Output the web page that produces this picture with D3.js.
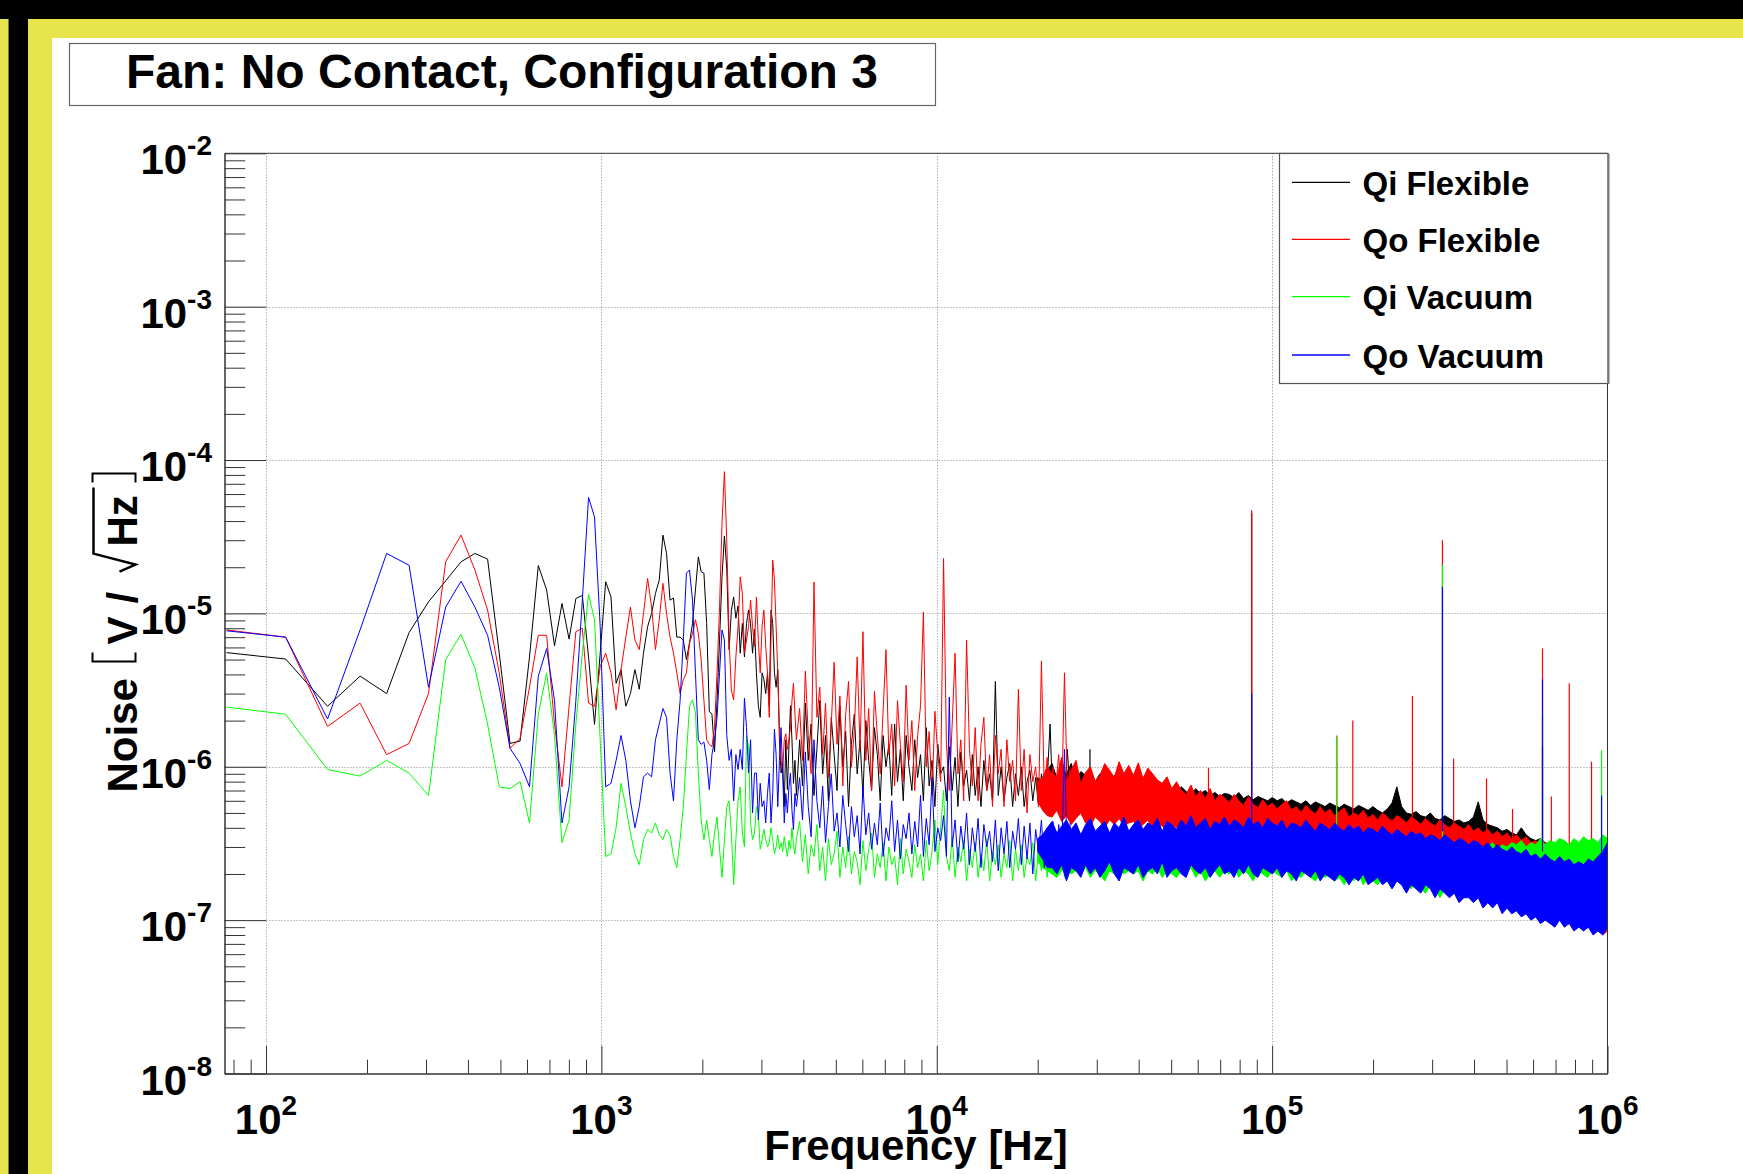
<!DOCTYPE html>
<html lang="en">
<head>
<meta charset="UTF-8">
<title>Fan: No Contact, Configuration 3</title>
<script src="https://d3js.org/d3.v7.min.js"></script>
<style>
  body { margin: 0; background: #fff; }
  text { font-family: "Liberation Sans", Arial, sans-serif; font-weight: bold; fill: #000; }
</style>
</head>
<body>
<script>
// all noise values are in uV/sqrt(Hz)
const unit = 1e-6;
const binWidth = 38.15;   // Hz per FFT bin
const lowStartBin = 2;    // first bin shown, low part runs bin 2..100

const seriesNames = ["Qi Flexible", "Qo Flexible", "Qi Vacuum", "Qo Vacuum"];
const seriesColors = ["#000000", "#ff0000", "#00ff00", "#0000ff"];

// ---- low part, one value per bin (k = 2..100)
const qiFlexLow = [5.55, 5.04, 2.48, 3.9, 3.0, 7.5, 11.9, 16.3, 21.7,
  24.6, 22.6, 5.5, 1.42, 1.47, 5.2, 20.5, 14.2, 6.15, 11.6,
  6.8, 12.5, 13.1, 5.2, 1.89, 5.5, 16.1, 12.8, 3.5, 4.3,
  2.48, 3.0, 4.3, 3.2, 5.5, 8.2, 10.0, 13.5, 16.5, 32.4,
  24.6, 12.2, 12.6, 7.0, 7.0, 6.7, 5.0, 6.4, 8.6, 14.2,
  23.4, 18.7, 18.3, 8.6, 2.3, 2.2, 1.25, 2.7, 6.7, 17.3,
  32, 19.5, 5.8, 10.5, 12.8, 9.3, 11.2, 5.5, 8.6, 5.2,
  8.6, 10.5, 8.6, 5.5, 7.9, 4.1, 2.5, 2.1, 4.1, 3.7,
  3.0, 4.1, 2.5, 10.5, 8.6, 4.1, 3.3, 4.3, 1.5, 0.91,
  1.05, 0.55, 1.5, 0.71, 1.35, 2.5, 1.5, 0.78, 1.1, 0.65];
const qoFlexLow = [7.8, 7.0, 1.83, 2.6, 1.2, 1.42, 3.0, 21.7, 32.4,
  19.2, 10.5, 4.08, 1.32, 1.53, 3.3, 7.2, 7.2, 1.9, 0.74,
  2.48, 7.6, 8.0, 2.6, 2.48, 4.5, 5.5, 4.1, 2.35, 4.3,
  7.0, 11.0, 6.7, 5.8, 10, 16.9, 11.0, 5.8, 9.1, 15.7,
  10, 7.0, 5.5, 4.1, 3.0, 3.7, 4.1, 6.4, 7.4, 9.1,
  7.4, 5.0, 2.7, 1.5, 1.4, 1.35, 1.8, 4.1, 11, 38.6,
  84, 30, 6.7, 3.16, 2.73, 5.2, 8.2, 17.3, 13.5, 5.5,
  6.7, 8.2, 12.2, 8.2, 6.1, 12.8, 6.7, 4.1, 8.2, 10.5,
  6.1, 4.1, 2.1, 6.7, 22.3, 16.5, 8.2, 4.1, 1.76, 1.1,
  0.91, 1.5, 1.64, 1.3, 1.5, 1.8, 2.7, 3.5, 2.2, 1.5];
const qiVacLow = [2.45, 2.2, 0.96, 0.87, 1.1, 0.91, 0.65, 5.0, 7.3,
  4.4, 1.9, 0.74, 0.72, 0.8, 0.43, 2.2, 4.1, 1.6, 0.32,
  0.45, 1.9, 5.5, 13.3, 9.1, 1.5, 0.26, 0.27, 0.4, 0.78,
  0.55, 0.37, 0.27, 0.23, 0.335, 0.39, 0.37, 0.43, 0.36, 0.335,
  0.39, 0.36, 0.26, 0.22, 0.335, 0.55, 1.2, 2.48, 2.73, 2.25,
  0.91, 0.45, 0.335, 0.45, 0.335, 0.26, 0.37, 0.47, 0.29, 0.19,
  0.335, 0.55, 0.6, 0.37, 0.17, 0.335, 0.6, 0.74, 0.37, 0.3,
  1.6, 1.35, 0.43, 0.335, 0.37, 0.55, 0.5, 0.29, 0.335, 0.39,
  0.335, 0.3, 0.32, 0.4, 0.335, 0.27, 0.3, 0.36, 0.29, 0.32,
  0.28, 0.35, 0.3, 0.26, 0.33, 0.29, 0.4, 0.31, 0.27, 0.34];
const qoVacLow = [7.7, 7.0, 2.05, 7.8, 24.6, 20.6, 3.3, 11, 16.2,
  11, 7.2, 3.3, 1.32, 1.05, 0.74, 3.9, 5.9, 2.7, 0.43,
  0.74, 2.7, 12.2, 57, 42.7, 8.2, 0.74, 0.78, 1.1, 1.6,
  1.1, 0.6, 0.4, 0.55, 0.86, 0.91, 0.86, 1.5, 1.9, 2.4,
  2.1, 0.91, 0.6, 1.5, 2.7, 6.7, 18.3, 19.2, 12.2, 4.1,
  1.5, 1.4, 1.45, 1.1, 0.71, 1.2, 1.5, 2.1, 4.1, 7.8,
  6.7, 1.6, 1.1, 1.3, 0.6, 1.2, 0.96, 1.3, 0.96, 2.8,
  1.8, 0.91, 1.5, 0.5, 0.91, 0.91, 0.45, 0.78, 0.55, 0.6,
  0.43, 0.67, 0.91, 0.43, 0.67, 1.76, 1.2, 0.55, 1.1, 1.8,
  0.91, 0.43, 0.67, 0.5, 0.74, 0.91, 0.52, 0.39, 0.67, 0.55];

// ---- middle part, read every ~3 px from 3.9 kHz to 25 kHz
const midRange = [3900, 25000, 95];
const qiFlexMid = [1.5, 0.75, 2.6, 1.1, 1.9, 0.65, 1.3, 2.7, 0.9, 1.6,
  0.6, 2.1, 1.2, 0.7, 2.5, 1.0, 1.7, 0.55, 1.4, 2.2,
  0.9, 1.5, 0.65, 2.0, 1.1, 0.7, 1.8, 1.2, 0.6, 1.6,
  1.0, 1.4, 0.65, 1.9, 0.8, 1.3, 0.6, 1.6, 1.0, 0.7,
  1.5, 0.85, 1.2, 0.6, 1.8, 0.75, 1.1, 0.55, 1.4, 0.9,
  1.0, 0.6, 1.35, 0.7, 1.15, 0.55, 1.25, 0.75, 0.95, 0.6,
  1.2, 0.65, 1.0, 0.55, 1.1, 0.7, 0.9, 0.6, 3.6, 0.65,
  1.0, 0.6, 0.85, 1.05, 0.55, 0.9, 0.65, 1.0, 0.55, 0.8,
  0.95, 0.6, 0.85, 0.55, 0.9, 0.65, 0.8, 1.9, 0.55, 0.85,
  0.6, 0.9, 0.55, 1.3, 0.65];
const qoFlexMid = [2.4, 1.1, 4.2, 1.6, 0.9, 16, 2.1, 3.3, 1.2, 2.6,
  0.85, 1.9, 4.8, 1.4, 2.9, 0.75, 2.2, 3.6, 1.0, 1.7,
  5.2, 1.3, 7.6, 1.1, 2.4, 0.7, 3.1, 1.6, 0.9, 2.3,
  5.8, 1.2, 1.9, 0.75, 2.7, 1.4, 0.8, 3.4, 1.1, 2.0,
  0.7, 1.6, 2.5, 10.2, 1.0, 1.7, 0.65, 2.3, 1.2, 0.8,
  22.8, 1.4, 0.7, 1.9, 5.5, 0.9, 1.5, 0.6, 6.7, 1.3,
  0.75, 1.8, 0.6, 1.4, 2.1, 0.7, 1.2, 0.55, 1.6, 0.9,
  1.3, 0.55, 1.5, 0.8, 1.1, 0.6, 3.2, 0.7, 1.3, 0.5,
  1.2, 0.8, 1.0, 0.55, 4.9, 0.7, 1.15, 0.5, 1.0, 0.75,
  1.2, 0.55, 4.1, 0.7, 1.0];
const qiVacMid = [0.44, 0.24, 0.36, 0.2, 0.31, 0.26, 0.42, 0.21, 0.3, 0.18,
  0.34, 0.23, 0.27, 0.38, 0.19, 0.3, 0.22, 0.35, 0.2, 0.28,
  0.24, 0.17, 0.33, 0.21, 0.29, 0.37, 0.19, 0.27, 0.22, 0.32,
  0.18, 0.3, 0.23, 0.26, 0.17, 0.34, 0.2, 0.29, 0.24, 0.19,
  0.31, 0.22, 0.27, 0.18, 0.33, 0.21, 0.28, 0.45, 0.23, 0.4,
  0.7, 0.26, 0.21, 0.35, 0.19, 0.3, 0.24, 0.33, 0.18, 0.29,
  0.22, 0.32, 0.19, 0.27, 0.21, 0.34, 0.18, 0.28, 0.23, 0.31,
  0.19, 0.27, 0.22, 0.33, 0.18, 0.29, 0.21, 0.31, 0.19, 0.26,
  0.23, 0.32, 0.18, 0.28, 0.21, 0.3, 0.19, 0.33, 0.2, 0.27,
  0.22, 0.31, 0.19, 0.29, 0.21];
const qoVacMid = [0.85, 0.45, 1.25, 0.55, 0.35, 1.5, 0.6, 0.4, 0.75, 0.32,
  0.55, 0.9, 0.38, 0.5, 0.3, 0.65, 0.42, 0.28, 0.55, 0.35,
  0.48, 0.27, 0.75, 0.36, 0.5, 0.29, 0.43, 0.31, 0.58, 0.26,
  0.4, 0.33, 0.6, 0.28, 0.45, 0.25, 0.42, 0.34, 0.5, 0.27,
  0.44, 0.3, 0.65, 0.26, 0.46, 0.31, 0.85, 0.28, 0.4, 0.33,
  0.48, 0.26, 2.85, 0.3, 0.45, 0.24, 0.41, 0.29, 0.5, 0.23,
  0.4, 0.28, 0.46, 0.22, 0.42, 0.3, 0.38, 0.24, 0.45, 0.21,
  0.4, 0.27, 0.44, 0.22, 0.38, 0.29, 0.46, 0.23, 0.41, 0.25,
  0.43, 0.2, 0.39, 0.28, 0.45, 0.22, 0.4, 0.26, 0.44, 0.21,
  0.42, 0.25, 1.3, 0.23, 0.43];

// ---- dense band, upper / lower edge read every ~5 px from 20 kHz to 1 MHz
const bandRange = [20000, 1e6, 120];
const qiFlexHi = [0.85, 0.8, 0.95, 1.05, 0.84, 0.95, 0.9, 1.05, 0.82, 0.93,
  0.88, 0.96, 0.8, 0.9, 0.84, 0.78, 0.88, 0.8, 0.76, 0.85,
  0.78, 0.74, 0.82, 0.76, 0.72, 0.78, 0.7, 0.75, 0.71, 0.68,
  0.74, 0.69, 0.66, 0.72, 0.67, 0.7, 0.65, 0.68, 0.64, 0.67,
  0.66, 0.63, 0.68, 0.62, 0.65, 0.61, 0.64, 0.62, 0.6, 0.63,
  0.6, 0.62, 0.58, 0.61, 0.59, 0.57, 0.6, 0.56, 0.59, 0.57,
  0.55, 0.58, 0.56, 0.54, 0.57, 0.55, 0.53, 0.56, 0.54, 0.52,
  0.55, 0.52, 0.5, 0.53, 0.58, 0.74, 0.55, 0.5, 0.49, 0.51,
  0.48, 0.47, 0.5, 0.46, 0.45, 0.48, 0.46, 0.44, 0.45, 0.43,
  0.44, 0.47, 0.59, 0.45, 0.42, 0.41, 0.4, 0.38, 0.39, 0.37,
  0.36, 0.4, 0.36, 0.34, 0.33, 0.34, 0.32, 0.31, 0.3, 0.3,
  0.29, 0.28, 0.29, 0.27, 0.27, 0.26, 0.26, 0.25, 0.24, 0.25];
const qiFlexLo = [0.62, 0.56, 0.5, 0.51, 0.55, 0.48, 0.52, 0.47, 0.5, 0.53,
  0.47, 0.46, 0.5, 0.48, 0.45, 0.49, 0.46, 0.49, 0.45, 0.47,
  0.47, 0.44, 0.46, 0.48, 0.43, 0.46, 0.44, 0.42, 0.45, 0.43,
  0.42, 0.44, 0.41, 0.42, 0.4, 0.43, 0.4, 0.39, 0.41, 0.39,
  0.4, 0.38, 0.41, 0.37, 0.39, 0.38, 0.36, 0.39, 0.37, 0.36,
  0.38, 0.35, 0.37, 0.36, 0.34, 0.37, 0.35, 0.33, 0.36, 0.34,
  0.33, 0.35, 0.32, 0.34, 0.33, 0.31, 0.33, 0.32, 0.3, 0.32,
  0.31, 0.29, 0.31, 0.3, 0.3, 0.32, 0.29, 0.27, 0.29, 0.27,
  0.26, 0.28, 0.25, 0.26, 0.24, 0.25, 0.23, 0.24, 0.23, 0.22,
  0.23, 0.24, 0.25, 0.2, 0.21, 0.19, 0.2, 0.18, 0.19, 0.18,
  0.17, 0.18, 0.16, 0.17, 0.15, 0.16, 0.15, 0.14, 0.15, 0.14,
  0.13, 0.14, 0.12, 0.13, 0.12, 0.12, 0.11, 0.12, 0.1, 0.11];
const qoFlexHi = [0.8, 0.85, 1.0, 0.9, 0.86, 1.15, 0.8, 0.95, 1.1, 0.78,
  0.92, 1.0, 0.8, 0.88, 1.05, 0.95, 0.85, 1.08, 0.9, 1.02,
  0.88, 1.06, 0.84, 0.98, 0.9, 0.82, 0.78, 0.86, 0.72, 0.8,
  0.7, 0.66, 0.76, 0.64, 0.7, 0.62, 0.72, 0.6, 0.66, 0.63,
  0.58, 0.66, 0.6, 0.56, 0.64, 0.57, 0.54, 0.61, 0.55, 0.58,
  0.53, 0.57, 0.6, 0.52, 0.55, 0.5, 0.56, 0.52, 0.49, 0.55,
  0.5, 0.53, 0.48, 0.51, 0.54, 0.47, 0.5, 0.48, 0.52, 0.46,
  0.49, 0.45, 0.5, 0.47, 0.44, 0.48, 0.46, 0.43, 0.47, 0.45,
  0.42, 0.46, 0.43, 0.41, 0.45, 0.42, 0.4, 0.43, 0.41, 0.39,
  0.42, 0.38, 0.4, 0.37, 0.39, 0.36, 0.38, 0.35, 0.37, 0.34,
  0.36, 0.33, 0.35, 0.32, 0.33, 0.31, 0.32, 0.3, 0.31, 0.29,
  0.3, 0.28, 0.29, 0.27, 0.27, 0.25, 0.26, 0.24, 0.24, 0.23];
const qoFlexLo = [0.6, 0.52, 0.48, 0.47, 0.52, 0.44, 0.48, 0.42, 0.46, 0.5,
  0.43, 0.41, 0.47, 0.44, 0.4, 0.45, 0.42, 0.46, 0.41, 0.43,
  0.44, 0.4, 0.42, 0.45, 0.39, 0.43, 0.41, 0.38, 0.42, 0.4,
  0.38, 0.41, 0.37, 0.39, 0.36, 0.4, 0.37, 0.35, 0.38, 0.36,
  0.37, 0.35, 0.38, 0.34, 0.36, 0.35, 0.33, 0.36, 0.34, 0.33,
  0.35, 0.32, 0.34, 0.33, 0.31, 0.34, 0.32, 0.3, 0.33, 0.31,
  0.3, 0.32, 0.29, 0.31, 0.3, 0.28, 0.3, 0.29, 0.27, 0.29,
  0.28, 0.26, 0.28, 0.27, 0.25, 0.27, 0.25, 0.24, 0.26, 0.24,
  0.23, 0.25, 0.22, 0.23, 0.21, 0.22, 0.2, 0.21, 0.2, 0.19,
  0.2, 0.18, 0.19, 0.17, 0.18, 0.16, 0.17, 0.15, 0.16, 0.15,
  0.14, 0.15, 0.13, 0.14, 0.12, 0.13, 0.12, 0.11, 0.12, 0.11,
  0.1, 0.11, 0.095, 0.1, 0.09, 0.095, 0.085, 0.09, 0.08, 0.085];
const qiVacHi = [0.28, 0.3, 0.33, 0.33, 0.3, 0.35, 0.32, 0.37, 0.3, 0.34,
  0.31, 0.36, 0.32, 0.29, 0.35, 0.31, 0.33, 0.3, 0.36, 0.31,
  0.33, 0.3, 0.35, 0.31, 0.29, 0.34, 0.31, 0.33, 0.3, 0.35,
  0.31, 0.33, 0.29, 0.34, 0.3, 0.32, 0.29, 0.33, 0.3, 0.32,
  0.3, 0.33, 0.29, 0.31, 0.34, 0.29, 0.32, 0.3, 0.28, 0.32,
  0.3, 0.28, 0.32, 0.29, 0.31, 0.28, 0.3, 0.32, 0.28, 0.3,
  0.29, 0.31, 0.28, 0.3, 0.27, 0.3, 0.29, 0.27, 0.3, 0.28,
  0.29, 0.27, 0.3, 0.28, 0.27, 0.29, 0.27, 0.3, 0.28, 0.27,
  0.29, 0.27, 0.28, 0.3, 0.27, 0.29, 0.28, 0.3, 0.28, 0.29,
  0.3, 0.28, 0.31, 0.29, 0.3, 0.32, 0.29, 0.31, 0.3, 0.32,
  0.31, 0.33, 0.3, 0.32, 0.31, 0.34, 0.31, 0.33, 0.32, 0.34,
  0.33, 0.31, 0.34, 0.32, 0.35, 0.33, 0.34, 0.32, 0.36, 0.34];
const qiVacLo = [0.24, 0.22, 0.21, 0.2, 0.19, 0.21, 0.22, 0.2, 0.21, 0.2,
  0.22, 0.19, 0.21, 0.2, 0.18, 0.21, 0.2, 0.22, 0.2, 0.21,
  0.2, 0.21, 0.18, 0.21, 0.2, 0.22, 0.19, 0.21, 0.2, 0.19,
  0.21, 0.2, 0.22, 0.19, 0.21, 0.18, 0.2, 0.21, 0.19, 0.21,
  0.2, 0.22, 0.19, 0.21, 0.2, 0.18, 0.21, 0.2, 0.19, 0.21,
  0.2, 0.19, 0.21, 0.18, 0.2, 0.19, 0.21, 0.19, 0.18, 0.2,
  0.19, 0.2, 0.18, 0.19, 0.17, 0.19, 0.18, 0.2, 0.17, 0.19,
  0.18, 0.17, 0.19, 0.18, 0.16, 0.18, 0.17, 0.19, 0.16, 0.18,
  0.16, 0.15, 0.17, 0.16, 0.14, 0.16, 0.15, 0.17, 0.14, 0.16,
  0.15, 0.14, 0.16, 0.15, 0.14, 0.15, 0.13, 0.15, 0.14, 0.15,
  0.14, 0.13, 0.15, 0.14, 0.13, 0.14, 0.13, 0.15, 0.13, 0.14,
  0.14, 0.13, 0.15, 0.13, 0.14, 0.13, 0.15, 0.13, 0.14, 0.13];
const qoVacHi = [0.34, 0.36, 0.4, 0.44, 0.37, 0.41, 0.45, 0.39, 0.43, 0.36,
  0.42, 0.46, 0.38, 0.41, 0.44, 0.37, 0.43, 0.4, 0.47, 0.38,
  0.42, 0.45, 0.39, 0.43, 0.41, 0.46, 0.38, 0.44, 0.42, 0.39,
  0.45, 0.41, 0.48, 0.4, 0.43, 0.46, 0.39, 0.44, 0.42, 0.47,
  0.41, 0.45, 0.43, 0.4, 0.47, 0.42, 0.44, 0.4, 0.46, 0.43,
  0.41, 0.45, 0.39, 0.43, 0.42, 0.4, 0.45, 0.41, 0.38, 0.43,
  0.41, 0.39, 0.43, 0.4, 0.38, 0.42, 0.39, 0.41, 0.37, 0.4,
  0.39, 0.37, 0.41, 0.38, 0.36, 0.39, 0.37, 0.35, 0.38, 0.36,
  0.37, 0.34, 0.36, 0.35, 0.33, 0.36, 0.34, 0.32, 0.34, 0.33,
  0.31, 0.33, 0.32, 0.3, 0.32, 0.29, 0.31, 0.29, 0.28, 0.3,
  0.28, 0.27, 0.29, 0.26, 0.27, 0.25, 0.27, 0.25, 0.24, 0.26,
  0.24, 0.25, 0.23, 0.24, 0.23, 0.25, 0.24, 0.26, 0.28, 0.32];
const qoVacLo = [0.28, 0.25, 0.22, 0.22, 0.2, 0.23, 0.18, 0.22, 0.21, 0.19,
  0.23, 0.2, 0.22, 0.19, 0.21, 0.24, 0.2, 0.18, 0.22, 0.21,
  0.2, 0.23, 0.19, 0.21, 0.22, 0.2, 0.24, 0.19, 0.21, 0.22,
  0.2, 0.19, 0.23, 0.21, 0.2, 0.22, 0.19, 0.21, 0.23, 0.2,
  0.21, 0.19, 0.22, 0.2, 0.23, 0.2, 0.19, 0.22, 0.21, 0.2,
  0.22, 0.19, 0.21, 0.2, 0.18, 0.21, 0.2, 0.19, 0.21, 0.18,
  0.2, 0.19, 0.18, 0.2, 0.19, 0.17, 0.19, 0.18, 0.2, 0.17,
  0.18, 0.19, 0.17, 0.18, 0.16, 0.18, 0.17, 0.15, 0.17, 0.16,
  0.15, 0.17, 0.16, 0.14, 0.16, 0.15, 0.14, 0.15, 0.13, 0.14,
  0.14, 0.13, 0.14, 0.12, 0.13, 0.12, 0.13, 0.11, 0.12, 0.11,
  0.115, 0.105, 0.11, 0.1, 0.105, 0.095, 0.1, 0.095, 0.09, 0.1,
  0.09, 0.095, 0.085, 0.09, 0.085, 0.09, 0.08, 0.085, 0.08, 0.09];

// ---- narrow lines: [frequency Hz, band level, peak]
const qiFlexSpikes = [[28630, 0.75, 1.3], [86900, 0.6, 45],
  [322000, 0.45, 1.0], [640000, 0.32, 1.35]];
const qoFlexSpikes = [[64600, 0.55, 0.98], [86900, 0.55, 47], [156000, 0.45, 1.6],
  [174000, 0.45, 2.0], [262000, 0.42, 2.9], [322000, 0.42, 30], [347600, 0.4, 1.13],
  [435800, 0.36, 0.84], [521000, 0.34, 0.53], [640000, 0.3, 5.9], [680000, 0.28, 0.64],
  [769000, 0.27, 3.5], [896000, 0.25, 1.08]];
const qiVacSpikes = [[155600, 0.3, 1.57], [322000, 0.27, 20.7], [640000, 0.27, 2.2],
  [960000, 0.3, 1.28]];
const qoVacSpikes = [[86900, 0.42, 3.0], [322000, 0.38, 14.9],
  [640000, 0.28, 3.7], [960000, 0.28, 0.65]];

const xExponents = [2, 3, 4, 5, 6];
const yExponents = [-8, -7, -6, -5, -4, -3, -2];

// ------------------------------------------------------------------
const W = 1743, H = 1174;
const yellow = "#e8e44c";
const plot = { left: 224.5, right: 1607.5, top: 153.3, bottom: 1073.5 };

const svg = d3.select("body").append("svg")
  .attr("width", W)
  .attr("height", H);

// canvas border (black + yellow strips)
svg.append("rect").attr("width", W).attr("height", H).attr("fill", "#fff");
svg.append("rect").attr("x", 0).attr("y", 0).attr("width", W).attr("height", 19).attr("fill", "#000");
svg.append("rect").attr("x", 28).attr("y", 19).attr("width", W - 28).attr("height", 19).attr("fill", yellow);
svg.append("rect").attr("x", 0).attr("y", 19).attr("width", 8.5).attr("height", H - 19).attr("fill", yellow);
svg.append("rect").attr("x", 8.5).attr("y", 0).attr("width", 19.5).attr("height", H).attr("fill", "#000");
svg.append("rect").attr("x", 28).attr("y", 19).attr("width", 24).attr("height", H - 19).attr("fill", yellow);

// scales
const x = d3.scaleLog().domain([75.2, 1e6]).range([plot.left, plot.right]);
const y = d3.scaleLog().domain([1e-8, 1e-2]).range([plot.bottom, plot.top]);

const xMajor = xExponents.map(e => Math.pow(10, e));
const yMajor = yExponents.map(e => Math.pow(10, e));
const xMinor = [80, 90].concat(...[1e2, 1e3, 1e4, 1e5].map(d => d3.range(2, 10).map(m => m * d)));
const yMinor = [].concat(...yMajor.slice(0, -1).map(d => d3.range(2, 10).map(m => m * d)));

// grid
const grid = svg.append("g")
  .attr("stroke", "#8a8a8a")
  .attr("stroke-dasharray", "1,2")
  .attr("stroke-width", 1);
grid.selectAll(".gx").data(xMajor.filter(v => v < 1e6)).join("line")
  .attr("x1", d => Math.round(x(d)) + 0.5).attr("x2", d => Math.round(x(d)) + 0.5)
  .attr("y1", plot.top).attr("y2", plot.bottom);
grid.selectAll(".gy").data(yMajor.slice(1, -1)).join("line")
  .attr("x1", plot.left).attr("x2", plot.right)
  .attr("y1", d => Math.round(y(d)) + 0.5).attr("y2", d => Math.round(y(d)) + 0.5);

// data
svg.append("clipPath").attr("id", "plotClip")
  .append("rect")
  .attr("x", plot.left).attr("y", plot.top)
  .attr("width", plot.right - plot.left).attr("height", plot.bottom - plot.top);

function logGrid([a, b, n]) {
  return d3.range(n).map(i => a * Math.pow(b / a, i / (n - 1)));
}
const midFreq = logGrid(midRange);
const bandFreq = logGrid(bandRange);

const series = [
  { low: qiFlexLow, mid: qiFlexMid, hi: qiFlexHi, lo: qiFlexLo, spikes: qiFlexSpikes },
  { low: qoFlexLow, mid: qoFlexMid, hi: qoFlexHi, lo: qoFlexLo, spikes: qoFlexSpikes },
  { low: qiVacLow, mid: qiVacMid, hi: qiVacHi, lo: qiVacLo, spikes: qiVacSpikes },
  { low: qoVacLow, mid: qoVacMid, hi: qoVacHi, lo: qoVacLo, spikes: qoVacSpikes }
];

const line = d3.line().x(d => x(d[0])).y(d => y(d[1] * unit));
const area = d3.area()
  .x(d => x(d.f))
  .y0(d => y(d.lo * unit))
  .y1(d => y(d.hi * unit));

const dataG = svg.append("g").attr("clip-path", "url(#plotClip)");

series.forEach((s, si) => {
  const color = seriesColors[si];
  const g = dataG.append("g");
  const pts = s.low.map((v, i) => [(i + lowStartBin) * binWidth, v])
    .concat(s.mid.map((v, i) => [midFreq[i], v]));
  const band = bandFreq.map((f, i) => ({ f: f, hi: s.hi[i], lo: s.lo[i] }));

  g.append("path")
    .datum(band)
    .attr("d", area)
    .attr("fill", color)
    .attr("stroke", color)
    .attr("stroke-width", 1);

  g.append("path")
    .datum(pts)
    .attr("d", line)
    .attr("fill", "none")
    .attr("stroke", color)
    .attr("stroke-width", 1);

  g.selectAll(".spike").data(s.spikes).join("line")
    .attr("x1", d => x(d[0])).attr("x2", d => x(d[0]))
    .attr("y1", d => y(d[1] * unit)).attr("y2", d => y(d[2] * unit))
    .attr("stroke", color)
    .attr("stroke-width", 1.2);
});

// axes
const axisColor = "#333";
function styleAxis(g) {
  g.selectAll("line").attr("stroke", axisColor);
  g.selectAll(".domain").attr("stroke", axisColor);
  g.selectAll("text").remove();
}
svg.append("g").attr("transform", `translate(${plot.left},0)`)
  .call(d3.axisLeft(y).tickValues(yMajor).tickSize(-41.5).tickSizeOuter(0).tickFormat(""))
  .call(styleAxis);
svg.append("g").attr("transform", `translate(${plot.left},0)`)
  .call(d3.axisLeft(y).tickValues(yMinor).tickSize(-20.7).tickSizeOuter(0).tickFormat(""))
  .call(styleAxis);
svg.append("g").attr("transform", `translate(0,${plot.bottom})`)
  .call(d3.axisBottom(x).tickValues(xMajor).tickSize(-27.6).tickSizeOuter(0).tickFormat(""))
  .call(styleAxis);
svg.append("g").attr("transform", `translate(0,${plot.bottom})`)
  .call(d3.axisBottom(x).tickValues(xMinor).tickSize(-13.8).tickSizeOuter(0).tickFormat(""))
  .call(styleAxis);

// frame top and right
svg.append("path")
  .attr("d", `M${plot.left},${plot.top}H${plot.right}V${plot.bottom}`)
  .attr("fill", "none")
  .attr("stroke", axisColor)
  .attr("stroke-width", 1);

// tick labels 10^n
function powLabel(sel, exp) {
  sel.append("tspan").text("10");
  sel.append("tspan").attr("dy", -19).attr("font-size", 28).text(exp);
}
svg.append("g").selectAll("text").data(yExponents).join("text")
  .attr("x", 212)
  .attr("y", d => y(Math.pow(10, d)) + 21)
  .attr("text-anchor", "end")
  .attr("font-size", 42)
  .each(function (d) { powLabel(d3.select(this), d); });
svg.append("g").selectAll("text").data(xExponents).join("text")
  .attr("x", d => x(Math.pow(10, d)))
  .attr("y", 1134)
  .attr("text-anchor", "middle")
  .attr("font-size", 42)
  .each(function (d) { powLabel(d3.select(this), d); });

// axis titles
svg.append("text")
  .attr("x", (plot.left + plot.right) / 2)
  .attr("y", 1160)
  .attr("text-anchor", "middle")
  .attr("font-size", 42)
  .text("Frequency [Hz]");

const yt = svg.append("g").attr("transform", "translate(136.5,792.6) rotate(-90)");
yt.append("text").attr("x", 0).attr("y", 0).attr("font-size", 42).text("Noise");
yt.append("text").attr("x", 148).attr("y", 0).attr("font-size", 42).text("V");
yt.append("text").attr("x", 189).attr("y", 0).attr("font-size", 42).text("/");
yt.append("text").attr("x", 246).attr("y", 0).attr("font-size", 42).text("Hz");
yt.append("path").attr("d", "M140,-44H131V-1H140").attr("fill", "none").attr("stroke", "#000").attr("stroke-width", 2);
yt.append("path").attr("d", "M310,-44H319V-1H310").attr("fill", "none").attr("stroke", "#000").attr("stroke-width", 2);
yt.append("path").attr("d", "M221,-17L228,-1L239,-43H305").attr("fill", "none").attr("stroke", "#000").attr("stroke-width", 2.5);

// title box
svg.append("rect")
  .attr("x", 69.5).attr("y", 43.5).attr("width", 866).attr("height", 62)
  .attr("fill", "#fff").attr("stroke", "#666").attr("stroke-width", 1.2);
svg.append("text")
  .attr("x", 502).attr("y", 87.5)
  .attr("text-anchor", "middle")
  .attr("font-size", 48)
  .text("Fan: No Contact, Configuration 3");

// legend
const legend = svg.append("g");
legend.append("rect")
  .attr("x", 1279.5).attr("y", 153.5).attr("width", 328.5).attr("height", 230)
  .attr("fill", "#fff").attr("stroke", "#555").attr("stroke-width", 1.2);
legend.append("line")
  .attr("x1", 1608.5).attr("x2", 1608.5).attr("y1", 153.5).attr("y2", 384)
  .attr("stroke", "#777").attr("stroke-width", 2);
const rowY = [182.3, 239.3, 296.7, 355];
const rows = legend.selectAll(".row").data(seriesNames).join("g");
rows.append("line")
  .attr("x1", 1292).attr("x2", 1350)
  .attr("y1", (d, i) => rowY[i]).attr("y2", (d, i) => rowY[i])
  .attr("stroke", (d, i) => seriesColors[i])
  .attr("stroke-width", 1.3);
rows.append("text")
  .attr("x", 1362.5)
  .attr("y", (d, i) => rowY[i] + 12.5)
  .attr("font-size", 33)
  .text(d => d);
</script>
</body>
</html>
